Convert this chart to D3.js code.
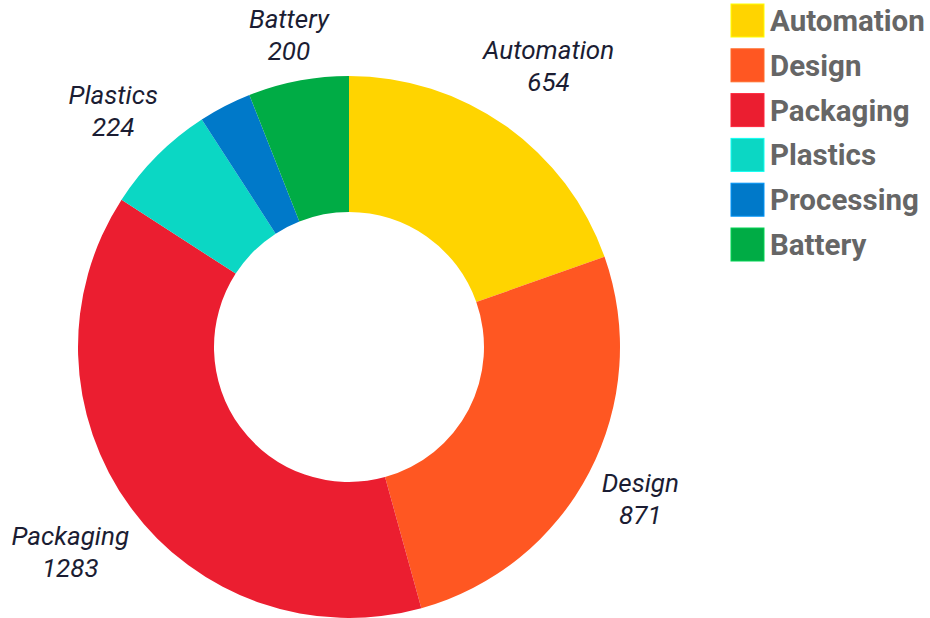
<!DOCTYPE html>
<html>
<head>
<meta charset="utf-8">
<script src="https://cdn.jsdelivr.net/npm/d3@7"></script>
<style>
	body { margin: 0; background: #fff; }
	.slice-label { font-family: Roboto, sans-serif; font-style: italic; font-size: 26px; fill: #1b1d33; }
	.legend text { font-family: Roboto, sans-serif; font-weight: bold; font-size: 29.5px; fill: #666; }
</style>
</head>
<body>
<svg></svg>
<script>
	var categories = ["Automation", "Design", "Packaging", "Plastics", "Processing", "Battery"];
	var values = [654, 871, 1283, 224, 105, 200];
	var colors = ["#ffd400", "#ff5722", "#eb1e30", "#0bd7c4", "#0079c9", "#00ac45"];
	// Processing has no label on the chart
	var showLabel = [true, true, true, true, false, true];

	var width = 930, height = 618;
	var cx = 349, cy = 347;
	var outerR = 271, innerR = 135, labelGap = 280;

	var svg = d3.select("svg")
		.attr("width", width)
		.attr("height", height);

	var data = categories.map((c, i) => ({ name: c, value: values[i], color: colors[i], show: showLabel[i] }));

	var pie = d3.pie().sort(null).value(d => d.value);
	var arc = d3.arc().innerRadius(innerR).outerRadius(outerR);

	var g = svg.append("g")
		.attr("transform", "translate(" + cx + "," + cy + ")");

	var arcs = pie(data);

	g.selectAll("path")
		.data(arcs)
		.enter().append("path")
		.attr("d", arc)
		.attr("fill", d => d.data.color);

	// labels outside the ring, name above value
	var labels = g.selectAll(".slice-label")
		.data(arcs.filter(d => d.data.show))
		.enter().append("text")
		.attr("class", "slice-label")
		.attr("text-anchor", "middle");
	labels.append("tspan")
		.attr("x", 0)
		.attr("y", 0)
		.text(d => d.data.name);
	labels.append("tspan")
		.attr("x", 0)
		.attr("y", 32)
		.text(d => d.data.value);

	// push each label box out along its mid angle until it clears the ring
	labels.each(function (d) {
		var bb = this.getBBox();
		var a = (d.startAngle + d.endAngle) / 2;
		var s = Math.sin(a), c = -Math.cos(a);
		var ext = Math.abs(s) * bb.width / 2 + Math.abs(c) * bb.height / 2;
		var r = labelGap + ext;
		var tx = s * r - (bb.x + bb.width / 2);
		var ty = c * r - (bb.y + bb.height / 2);
		d3.select(this).attr("transform", "translate(" + tx + "," + ty + ")");
	});

	// legend
	var legend = svg.append("g")
		.attr("class", "legend")
		.attr("transform", "translate(731,4)");
	var rows = legend.selectAll("g")
		.data(data)
		.enter().append("g")
		.attr("transform", (d, i) => "translate(0," + (i * 44.8) + ")");
	rows.append("rect")
		.attr("width", 33)
		.attr("height", 33)
		.attr("fill", d => d.color)
		.attr("stroke", d => d3.color(d.color).brighter(0.6))
		.attr("stroke-width", 1);
	rows.append("text")
		.attr("x", 39)
		.attr("y", 27)
		.text(d => d.name);
</script>
</body>
</html>
